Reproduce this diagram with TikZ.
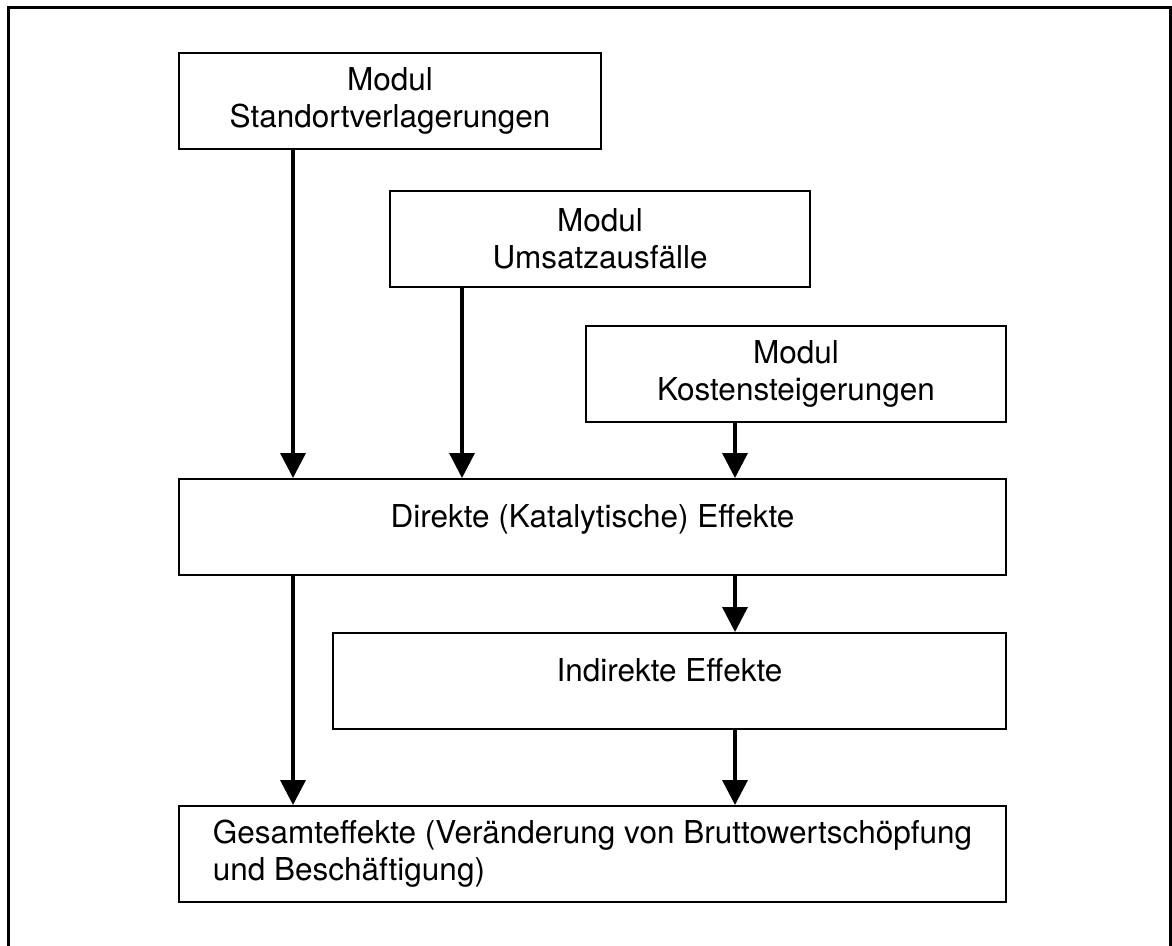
\documentclass[tikz,border=0pt]{standalone}
\usepackage{fontspec}
\setmainfont{TeX Gyre Heros}
\usetikzlibrary{arrows.meta}
\begin{document}
\begin{tikzpicture}[x=1pt,y=-1pt,
    box/.style={draw,line width=2pt,minimum width=#1,minimum height=96pt,inner sep=0pt,
      align=center,font=\fontsize{31.5}{37}\selectfont},
    pfeil/.style={line width=3.5pt,-{Triangle[length=25pt,width=25pt]}}]
  \useasboundingbox (0,0) rectangle (1172,945);
  \draw[line width=3pt] (8,7) rectangle (1170,990);
  \node[box=422pt] (std) at (390,100.5) {Modul\\Standortverlagerungen};
  \node[box=420pt] (ums) at (600,239) {Modul\\Umsatzausfälle};
  \node[box=420pt] (kos) at (796,373.5) {Modul\\Kostensteigerungen};
  \node[box=827pt,text height=11pt,text depth=11pt] (dir) at (592.5,527) {Direkte (Katalytische) Effekte};
  \node[box=673pt,text height=11pt,text depth=11pt] (ind) at (669.5,681) {Indirekte Effekte};
  \node[box=827pt,align=left] (ges) at (592.5,854) {Gesamteffekte (Veränderung von Bruttowertschöpfung\\und Beschäftigung)};
  \draw[pfeil] ([xshift=115pt]std.south west) -- ([xshift=115pt]std.south west |- dir.north);
  \draw[pfeil] ([xshift=73pt]ums.south west) -- ([xshift=73pt]ums.south west |- dir.north);
  \draw[pfeil] ([xshift=150pt]kos.south west) -- ([xshift=150pt]kos.south west |- dir.north);
  \draw[pfeil] ([xshift=115pt]dir.south west) -- ([xshift=115pt]dir.south west |- ges.north);
  \draw[pfeil] ([xshift=557pt]dir.south west) -- ([xshift=557pt]dir.south west |- ind.north);
  \draw[pfeil] ([xshift=403pt]ind.south west) -- ([xshift=403pt]ind.south west |- ges.north);
\end{tikzpicture}
\end{document}
